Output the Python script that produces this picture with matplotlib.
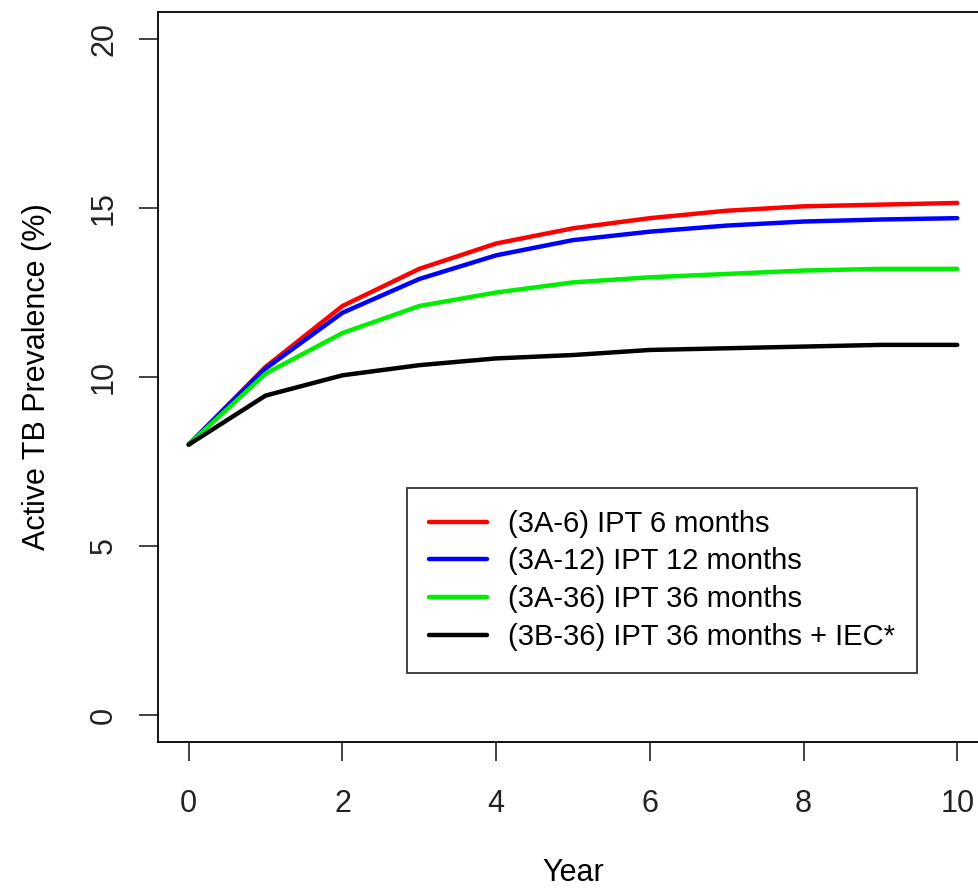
import matplotlib.pyplot as plt
import numpy as np

plt.rcParams['font.family'] = ['Liberation Sans', 'DejaVu Sans']

# data
years = np.arange(0, 11)
ipt_6 = [8.0, 10.3, 12.1, 13.2, 13.95, 14.4, 14.7, 14.92, 15.05, 15.1, 15.15]
ipt_12 = [8.0, 10.25, 11.9, 12.9, 13.6, 14.05, 14.3, 14.48, 14.6, 14.66, 14.7]
ipt_36 = [8.0, 10.1, 11.3, 12.1, 12.5, 12.8, 12.95, 13.05, 13.15, 13.2, 13.2]
ipt_36_iec = [8.0, 9.45, 10.05, 10.35, 10.55, 10.65, 10.8, 10.85, 10.9, 10.95, 10.95]

labels = ['(3A-6) IPT 6 months', '(3A-12) IPT 12 months',
          '(3A-36) IPT 36 months', '(3B-36) IPT 36 months + IEC*']
colors = ['#ff0000', '#0000ff', '#00ee00', '#000000']

fig = plt.figure(figsize=(9.79, 8.91), dpi=100)
ax = fig.add_axes([158 / 979, 149 / 891, 830 / 979, 730 / 891])

for ys, lab, c in zip([ipt_6, ipt_12, ipt_36, ipt_36_iec], labels, colors):
    ax.plot(years, ys, color=c, lw=3.2, label=lab, solid_capstyle='round')

ax.set_xlim(-0.4, 10.4)
ax.set_ylim(-0.8, 20.8)
ax.set_xticks([0, 2, 4, 6, 8, 10])
ax.set_yticks([0, 5, 10, 15, 20])
ax.tick_params(labelsize=22, length=14, width=1.2, pad=14, colors='#222222')
ax.tick_params(axis='x', pad=20)
for t in ax.get_yticklabels():
    t.set_rotation(90)
    t.set_va('center')
for s in ax.spines.values():
    s.set_linewidth(1.3)

ax.set_xlabel('Year', fontsize=22, labelpad=28)
ax.set_ylabel('Active TB Prevalence (%)', fontsize=22, labelpad=27)

leg = ax.legend(loc='upper left', bbox_to_anchor=(0.300, 0.348), fontsize=21,
                frameon=True, fancybox=False, edgecolor='black',
                handlelength=2.0, handletextpad=0.7, labelspacing=0.33,
                borderpad=0.75, borderaxespad=0)
leg.get_frame().set_linewidth(1.3)

fig.savefig('out.png', dpi=100)
